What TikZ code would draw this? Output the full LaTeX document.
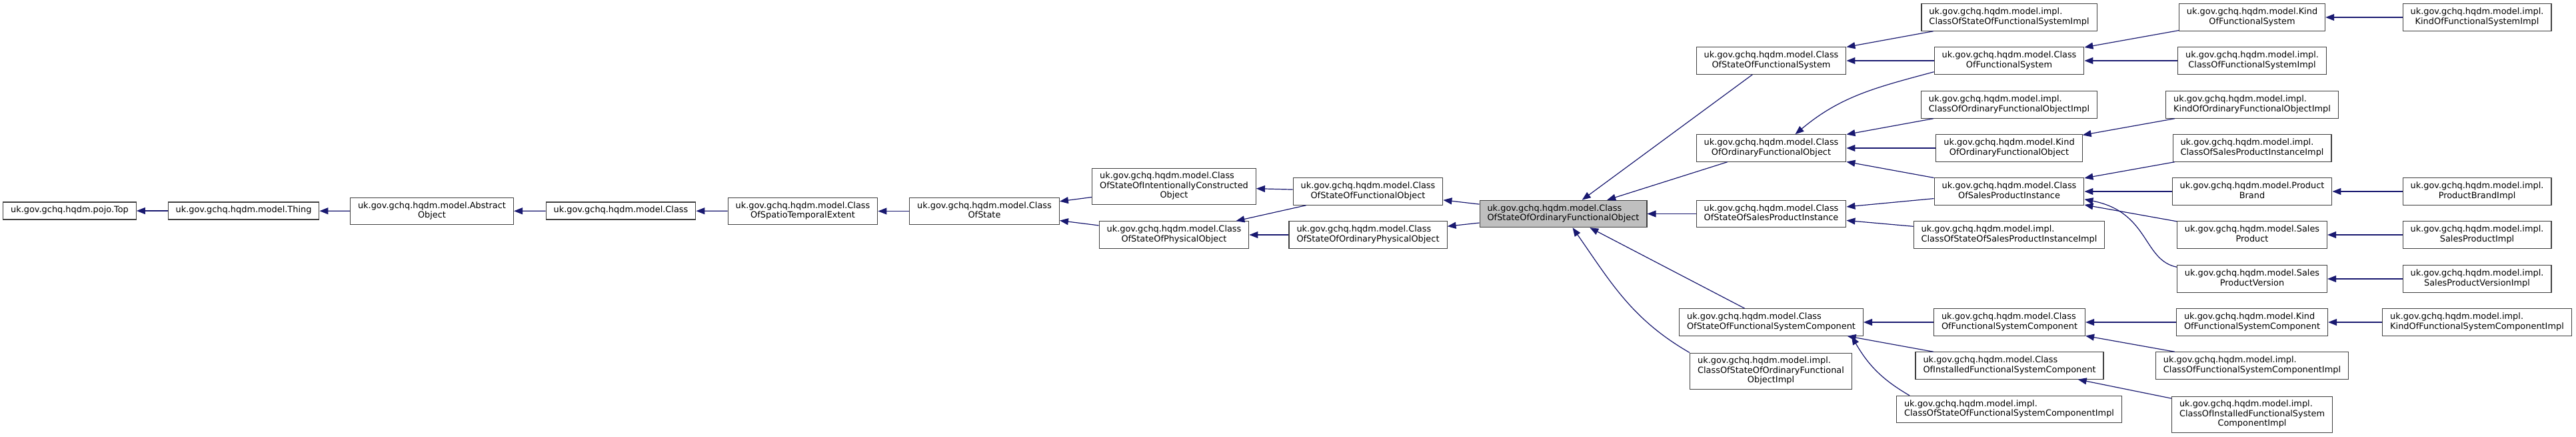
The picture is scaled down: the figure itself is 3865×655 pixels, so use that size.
\documentclass[tikz,border=0pt]{standalone}
\usepackage{fontspec}
\setmainfont{DejaVu Sans}
\usetikzlibrary{arrows.meta}
\definecolor{EdgeBlue}{RGB}{25,25,112}
\definecolor{BoxLine}{RGB}{64,64,64}
\definecolor{FocusGrey}{RGB}{191,191,191}
\newcommand{\onel}[1]{\begin{tabular}{@{}c@{}}#1\end{tabular}}
\newcommand{\twol}[2]{\begin{tabular}{@{}l@{}}#1\\\multicolumn{1}{@{}c@{}}{#2}\end{tabular}}
\newcommand{\threel}[3]{\begin{tabular}{@{}l@{}}#1\\#2\\\multicolumn{1}{@{}c@{}}{#3}\end{tabular}}

\begin{document}
\begin{tikzpicture}[x=1pt,y=-1pt,
  cls/.style={draw=BoxLine,line width=1.1pt,fill=white,inner xsep=11.5pt,inner ysep=5.8pt,font=\fontsize{12.9}{14.4}\selectfont},
  edge/.style={EdgeBlue,line width=1.2pt,-{Triangle[length=13pt,width=10pt]}}]
  \useasboundingbox (0,0) rectangle (3865,655);

  % main chain
  \node[cls] (top) at (104.5,316) {\onel{uk.gov.gchq.hqdm.pojo.Top}};
  \node[cls] (thing) at (365.5,316) {\onel{uk.gov.gchq.hqdm.model.Thing}};
  \node[cls] (abs) at (648,316.5) {\twol{uk.gov.gchq.hqdm.model.Abstract}{Object}};
  \node[cls] (cls) at (931.5,316) {\onel{uk.gov.gchq.hqdm.model.Class}};
  \node[cls] (cste) at (1204.5,316.5) {\twol{uk.gov.gchq.hqdm.model.Class}{OfSpatioTemporalExtent}};
  \node[cls] (cos) at (1477,316.5) {\twol{uk.gov.gchq.hqdm.model.Class}{OfState}};
  \node[cls] (cosico) at (1761.5,279.5) {\threel{uk.gov.gchq.hqdm.model.Class}{OfStateOfIntentionallyConstructed}{Object}};
  \node[cls] (cospo) at (1761.5,352) {\twol{uk.gov.gchq.hqdm.model.Class}{OfStateOfPhysicalObject}};
  \node[cls] (cosfo) at (2052.5,287) {\twol{uk.gov.gchq.hqdm.model.Class}{OfStateOfFunctionalObject}};
  \node[cls] (cosopo) at (2052.5,352) {\twol{uk.gov.gchq.hqdm.model.Class}{OfStateOfOrdinaryPhysicalObject}};
  \node[cls,fill=FocusGrey] (focus) at (2345.5,320.5) {\twol{uk.gov.gchq.hqdm.model.Class}{OfStateOfOrdinaryFunctionalObject}};

  % first level below the focus class
  \node[cls] (cosofs) at (2657.5,91) {\twol{uk.gov.gchq.hqdm.model.Class}{OfStateOfFunctionalSystem}};
  \node[cls] (coofo) at (2657.5,222) {\twol{uk.gov.gchq.hqdm.model.Class}{OfOrdinaryFunctionalObject}};
  \node[cls] (cosospi) at (2657.5,320.5) {\twol{uk.gov.gchq.hqdm.model.Class}{OfStateOfSalesProductInstance}};
  \node[cls] (cosofsc) at (2657.5,483) {\twol{uk.gov.gchq.hqdm.model.Class}{OfStateOfFunctionalSystemComponent}};
  \node[cls] (cosoofoi) at (2657,556.5) {\threel{uk.gov.gchq.hqdm.model.impl.}{ClassOfStateOfOrdinaryFunctional}{ObjectImpl}};

  % second level
  \node[cls] (cosofsi) at (3014.5,26) {\twol{uk.gov.gchq.hqdm.model.impl.}{ClassOfStateOfFunctionalSystemImpl}};
  \node[cls] (cofs) at (3014.5,91) {\twol{uk.gov.gchq.hqdm.model.Class}{OfFunctionalSystem}};
  \node[cls] (coofoi) at (3014.5,157) {\twol{uk.gov.gchq.hqdm.model.impl.}{ClassOfOrdinaryFunctionalObjectImpl}};
  \node[cls] (koofo) at (3014.5,222) {\twol{uk.gov.gchq.hqdm.model.Kind}{OfOrdinaryFunctionalObject}};
  \node[cls] (cospi) at (3014.5,287) {\twol{uk.gov.gchq.hqdm.model.Class}{OfSalesProductInstance}};
  \node[cls] (cosospii) at (3014.5,352) {\twol{uk.gov.gchq.hqdm.model.impl.}{ClassOfStateOfSalesProductInstanceImpl}};
  \node[cls] (cofsc) at (3015,483) {\twol{uk.gov.gchq.hqdm.model.Class}{OfFunctionalSystemComponent}};
  \node[cls] (coifsc) at (3015,548) {\twol{uk.gov.gchq.hqdm.model.Class}{OfInstalledFunctionalSystemComponent}};
  \node[cls] (cosofsci) at (3014.5,613.5) {\twol{uk.gov.gchq.hqdm.model.impl.}{ClassOfStateOfFunctionalSystemComponentImpl}};

  % third level
  \node[cls] (kofs) at (3379,26) {\twol{uk.gov.gchq.hqdm.model.Kind}{OfFunctionalSystem}};
  \node[cls] (cofsi) at (3379,91) {\twol{uk.gov.gchq.hqdm.model.impl.}{ClassOfFunctionalSystemImpl}};
  \node[cls] (koofoi) at (3379,157) {\twol{uk.gov.gchq.hqdm.model.impl.}{KindOfOrdinaryFunctionalObjectImpl}};
  \node[cls] (cospii) at (3379,222) {\twol{uk.gov.gchq.hqdm.model.impl.}{ClassOfSalesProductInstanceImpl}};
  \node[cls] (pb) at (3379,287) {\twol{uk.gov.gchq.hqdm.model.Product}{Brand}};
  \node[cls] (sp) at (3379,352) {\twol{uk.gov.gchq.hqdm.model.Sales}{Product}};
  \node[cls] (spv) at (3379,418) {\twol{uk.gov.gchq.hqdm.model.Sales}{ProductVersion}};
  \node[cls] (kofsc) at (3379,483) {\twol{uk.gov.gchq.hqdm.model.Kind}{OfFunctionalSystemComponent}};
  \node[cls] (cofsci) at (3379,548) {\twol{uk.gov.gchq.hqdm.model.impl.}{ClassOfFunctionalSystemComponentImpl}};
  \node[cls] (coifsci) at (3379,621.5) {\threel{uk.gov.gchq.hqdm.model.impl.}{ClassOfInstalledFunctionalSystem}{ComponentImpl}};

  % implementations on the right
  \node[cls] (kofsi) at (3716.5,26) {\twol{uk.gov.gchq.hqdm.model.impl.}{KindOfFunctionalSystemImpl}};
  \node[cls] (pbi) at (3716.5,287) {\twol{uk.gov.gchq.hqdm.model.impl.}{ProductBrandImpl}};
  \node[cls] (spi) at (3716.5,352) {\twol{uk.gov.gchq.hqdm.model.impl.}{SalesProductImpl}};
  \node[cls] (spvi) at (3716.5,418) {\twol{uk.gov.gchq.hqdm.model.impl.}{SalesProductVersionImpl}};
  \node[cls] (kofsci) at (3716.5,483) {\twol{uk.gov.gchq.hqdm.model.impl.}{KindOfFunctionalSystemComponentImpl}};

  % inheritance, child -> parent
  \foreach \c/\p in {thing/top,abs/thing,cls/abs,cste/cls,cos/cste,cosico/cos,cospo/cos,
      cosfo/cosico,cosfo/cospo,cosopo/cospo,focus/cosfo,focus/cosopo,
      cosofs/focus,coofo/focus,cosospi/focus,cosofsc/focus,
      cosofsi/cosofs,cofs/cosofs,coofoi/coofo,koofo/coofo,cospi/coofo,cospi/cosospi,cosospii/cosospi,
      cofsc/cosofsc,coifsc/cosofsc,
      kofs/cofs,cofsi/cofs,koofoi/koofo,cospii/cospi,pb/cospi,sp/cospi,
      kofsc/cofsc,cofsci/cofsc,coifsci/coifsc,
      kofsi/kofs,pbi/pb,spi/sp,spvi/spv,kofsci/kofsc}
    \draw[edge] (\c) -- (\p);
  \draw[edge] (cosoofoi.north west) to[out=150,in=-55] ([xshift=14pt]focus.south);
  \draw[edge] ([yshift=4pt]cofs.south west) to[out=195,in=40] ([xshift=36pt]coofo.north);
  \draw[edge] ([yshift=-3pt]spv.north west) .. controls (3215,390) and (3225,318) .. ([yshift=9pt]cospi.south east);
  \draw[edge] ([xshift=20pt]cosofsci.north west) to[out=150,in=-60] ([xshift=-18pt]cosofsc.south east);
\end{tikzpicture}
\end{document}
